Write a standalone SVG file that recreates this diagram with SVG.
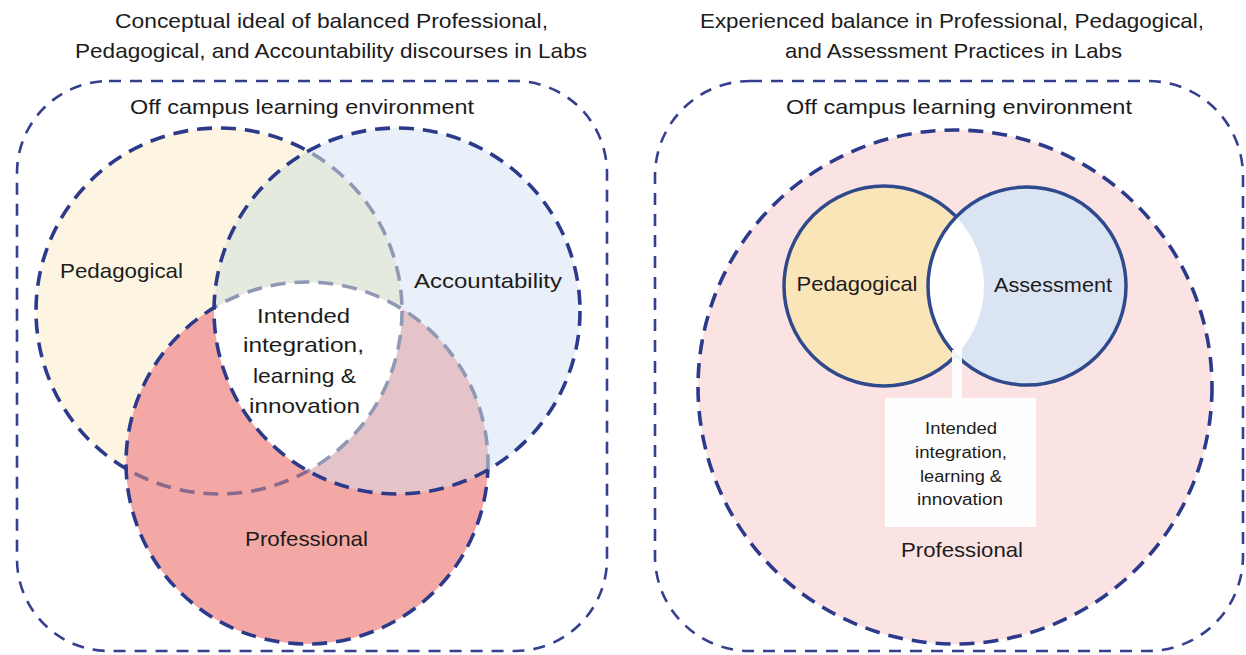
<svg xmlns="http://www.w3.org/2000/svg" width="1246" height="655" viewBox="0 0 1246 655">
<style>
text{font-family:"Liberation Sans",Arial,sans-serif;fill:#1c1c1c;text-anchor:middle}
.t{font-size:21px}
.l{font-size:21px}
.s{font-size:16px}
.frame{fill:none;stroke:#363f8e;stroke-width:2.6;stroke-dasharray:12 9}
.ds{fill:none;stroke-width:3.6;stroke-dasharray:15 9}
.strong{stroke:#2c3a8c}
.grey{stroke:#8f99b6}
.mauve{stroke:#8a6a8c}
.solid{fill:none;stroke:#2f4a8c;stroke-width:3.5}
</style>
<defs>
<clipPath id="cA"><circle cx="397" cy="311" r="183"/></clipPath>
<clipPath id="cP"><circle cx="219" cy="311" r="183"/></clipPath>
<clipPath id="cR"><circle cx="307" cy="463" r="181"/></clipPath>
<clipPath id="cNotA"><path clip-rule="evenodd" d="M0 0H1246V655H0Z M214 311a183 183 0 1 0 366 0a183 183 0 1 0 -366 0Z"/></clipPath>
<clipPath id="cNotR"><path clip-rule="evenodd" d="M0 0H1246V655H0Z M126 463a181 181 0 1 0 362 0a181 181 0 1 0 -362 0Z"/></clipPath>
<clipPath id="cAss"><circle cx="1027" cy="286" r="99"/></clipPath>
<clipPath id="cNotAss"><path clip-rule="evenodd" d="M0 0H1246V655H0Z M928 286a99 99 0 1 0 198 0a99 99 0 1 0 -198 0Z"/></clipPath>
</defs>
<rect width="1246" height="655" fill="#ffffff"/>

<g id="titles">
<text class="t" x="331.5" y="28" textLength="433" lengthAdjust="spacingAndGlyphs">Conceptual ideal of balanced Professional,</text>
<text class="t" x="331" y="58" textLength="512" lengthAdjust="spacingAndGlyphs">Pedagogical, and Accountability discourses in Labs</text>
<text class="t" x="952" y="28" textLength="504" lengthAdjust="spacingAndGlyphs">Experienced balance in Professional, Pedagogical,</text>
<text class="t" x="953.5" y="58" textLength="337" lengthAdjust="spacingAndGlyphs">and Assessment Practices in Labs</text>
</g>

<g id="left-environment">
<rect class="frame" x="17" y="81" width="590" height="570" rx="92" ry="92"/>
<text class="l" x="302" y="114" textLength="344" lengthAdjust="spacingAndGlyphs">Off campus learning environment</text>
</g>

<g id="left-fills">
<circle cx="219" cy="311" r="183" fill="#fdf5e2"/>
<circle cx="397" cy="311" r="183" fill="#e9f0fa"/>
<g clip-path="url(#cA)"><circle cx="219" cy="311" r="183" fill="#e5eadf"/></g>
<circle cx="307" cy="463" r="181" fill="#f4a8a5"/>
<g clip-path="url(#cA)"><circle cx="307" cy="463" r="181" fill="#e5c4c9"/></g>
<g clip-path="url(#cA)"><g clip-path="url(#cP)"><circle cx="307" cy="463" r="181" fill="#ffffff"/></g></g>
</g>

<g id="left-pedagogical">
<g clip-path="url(#cA)"><circle class="ds grey" cx="219" cy="311" r="183"/></g>
<g clip-path="url(#cNotA)"><g clip-path="url(#cR)"><circle class="ds mauve" cx="219" cy="311" r="183"/></g></g>
<g clip-path="url(#cNotA)"><g clip-path="url(#cNotR)"><circle class="ds strong" cx="219" cy="311" r="183"/></g></g>
<text class="l" x="121.5" y="278" textLength="123" lengthAdjust="spacingAndGlyphs">Pedagogical</text>
</g>

<g id="left-professional">
<g clip-path="url(#cA)"><circle class="ds grey" cx="307" cy="463" r="181"/></g>
<g clip-path="url(#cNotA)"><circle class="ds strong" cx="307" cy="463" r="181"/></g>
<text class="l" x="306.5" y="546" textLength="123" lengthAdjust="spacingAndGlyphs">Professional</text>
</g>

<g id="left-accountability">
<circle class="ds strong" cx="397" cy="311" r="183"/>
<text class="l" x="488" y="288" textLength="148" lengthAdjust="spacingAndGlyphs">Accountability</text>
</g>

<g id="left-intended">
<text class="l" x="303.5" y="323" textLength="93" lengthAdjust="spacingAndGlyphs">Intended</text>
<text class="l" x="303.5" y="352" textLength="121" lengthAdjust="spacingAndGlyphs">integration,</text>
<text class="l" x="304.5" y="383" textLength="103" lengthAdjust="spacingAndGlyphs">learning &amp;</text>
<text class="l" x="304.5" y="413" textLength="111" lengthAdjust="spacingAndGlyphs">innovation</text>
</g>

<g id="right-environment">
<rect class="frame" x="655" y="81" width="588" height="570" rx="95" ry="95"/>
<text class="l" x="959" y="114" textLength="346" lengthAdjust="spacingAndGlyphs">Off campus learning environment</text>
</g>

<g id="right-professional">
<circle cx="955" cy="387" r="257" fill="#fce3e3"/>
<circle class="ds strong" cx="955" cy="387" r="257" stroke-width="4"/>
<text class="l" x="962" y="557" textLength="122" lengthAdjust="spacingAndGlyphs">Professional</text>
</g>

<g id="right-pedagogical">
<circle cx="884" cy="286" r="100" fill="#fae5b9"/>
</g>
<g id="right-assessment">
<circle cx="1027" cy="286" r="99" fill="#dae4f2"/>
<g clip-path="url(#cAss)"><circle cx="884" cy="286" r="100" fill="#ffffff"/></g>
<g clip-path="url(#cNotAss)"><circle class="solid" cx="884" cy="286" r="100"/></g>
<circle class="solid" cx="1027" cy="286" r="99"/>
<text class="l" x="857" y="291" textLength="121" lengthAdjust="spacingAndGlyphs">Pedagogical</text>
<text class="l" x="1053" y="292" textLength="118" lengthAdjust="spacingAndGlyphs">Assessment</text>
</g>

<g id="right-intended">
<rect x="952" y="350" width="10" height="50" fill="#ffffff" opacity="0.92"/>
<rect x="885" y="398" width="151" height="129" fill="#ffffff" opacity="0.95"/>
<text class="s" x="961" y="434" textLength="72" lengthAdjust="spacingAndGlyphs">Intended</text>
<text class="s" x="961" y="458" textLength="92" lengthAdjust="spacingAndGlyphs">integration,</text>
<text class="s" x="961" y="482" textLength="82" lengthAdjust="spacingAndGlyphs">learning &amp;</text>
<text class="s" x="960" y="505" textLength="86" lengthAdjust="spacingAndGlyphs">innovation</text>
</g>
<g id="connectors"></g>
</svg>
